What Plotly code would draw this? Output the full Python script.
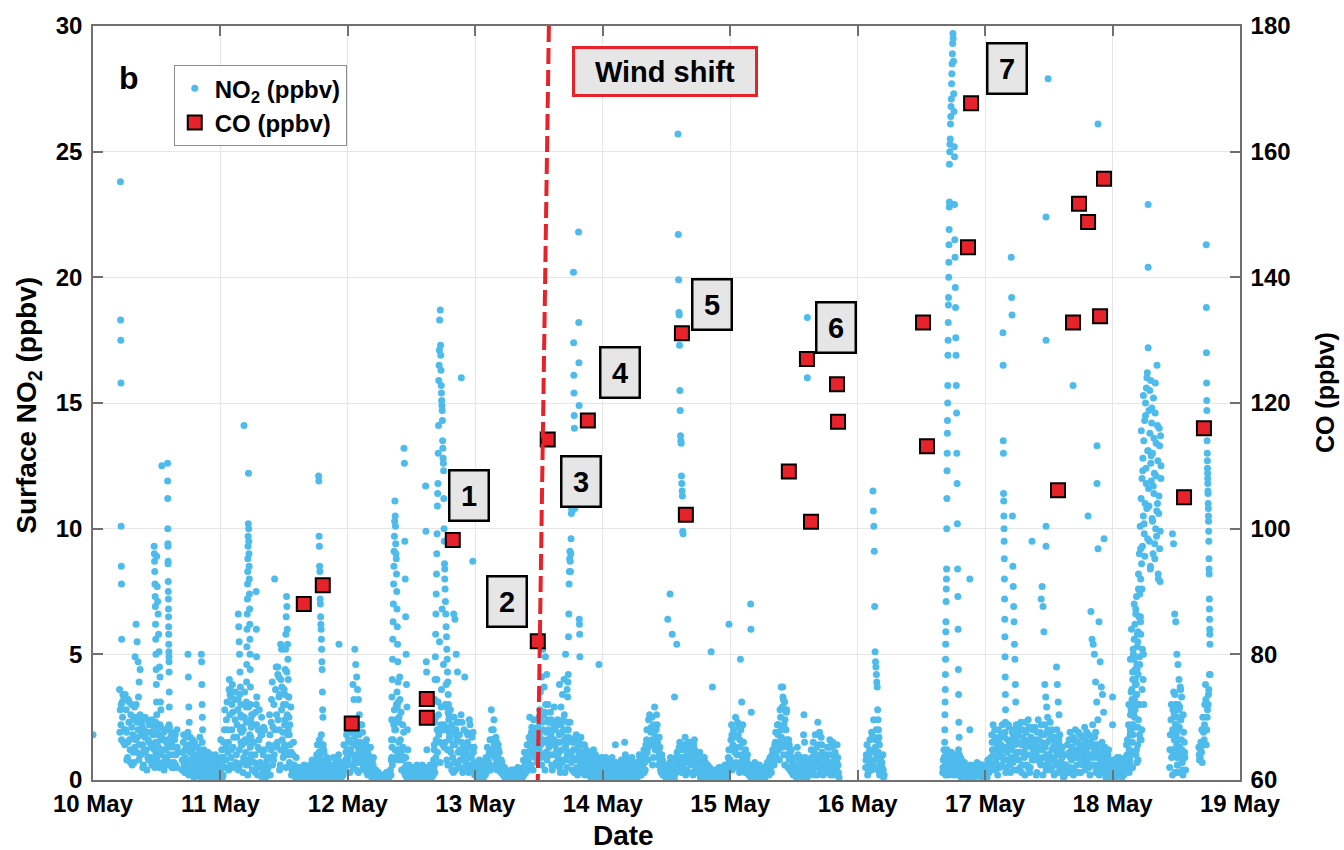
import pandas as pd
import plotly.graph_objects as go

START = pd.Timestamp("2016-05-10")
tick_labels = ["10 May", "11 May", "12 May", "13 May", "14 May",
               "15 May", "16 May", "17 May", "18 May", "19 May"]

N = None
# ---------------- NO2 background, strand A (15-min values from 00:00) ----------------
no2_may10 = [1.8, N, N, N, N, N, N, N, N, N, N, N,
             N, N, N, N, N, N, N, N, 3.6, 2.2, 3.1, 1.5,
             1.4, 2.8, 0.9, 2.3, 1.2, 3.0, 1.8, 0.7, 2.5, 1.1, 2.0, 1.4,
             1.0, 2.2, 0.6, 1.7, 1.2, 2.4, 0.8, 1.9, 1.3, 0.7, 2.1, 1.5,
             0.9, 1.8, 0.5, 2.1, 1.2, 0.7, 1.6, 2.0, 0.6, 1.4, 1.0, 1.9,
             1.3, 0.7, 1.8, 0.5, 1.1, N, N, 0.4, 1.5, 0.3, 1.7, 0.8,
             0.2, 1.1, 0.5, 1.6, 0.1, 0.8, 0.3, 1.3, 0.6, 0.1, 0.9, 0.4,
             0.3, 0.9, 0.1, 0.6, 0.2, 1.0, 0.4, 0.1, 0.7, 0.2, 0.5, 0.1]
no2_may11 = [0.4, 1.2, 0.2, 2.0, 0.8, 3.1, 1.5, 2.6, 0.9, 3.8, 1.7, 2.4,
             1.0, 2.8, 0.5, 2.0, 1.4, 0.3, 2.5, 1.1, 3.0, 0.6, 1.8, 0.9,
             0.4, 2.2, 1.0, 3.0, 0.2, 1.6, 0.7, 2.5, 0.3, 1.2, 0.1, 0.8,
             0.5, 2.6, 1.2, 3.9, 0.8, 2.0, 4.5, 1.5, 3.3, 0.6, 2.8, 1.9,
             3.6, 1.2, 4.3, 2.0, 0.7, 2.9, 0.4, 1.5, 0.2, 0.9, 0.3, 0.1,
             0.1, 0.4, 0.0, 0.6, 0.2, 0.1, 0.5, 0.0, 0.3, 0.8, 0.1, 0.4,
             0.6, 1.4, 0.2, 0.9, 1.8, 0.3, 1.1, 0.5, 0.2, 0.8, 0.1, 0.5,
             0.3, 0.9, 0.1, 0.6, 0.2, 1.0, 0.4, 0.0, 0.7, 1.4, 0.5, 1.8]
no2_may12 = [0.8, 2.0, 1.2, 2.2, 0.5, 1.7, 1.0, 2.1, 0.3, 1.5, 0.7, 1.9,
             1.1, 0.4, 1.6, 0.2, 0.9, 1.3, 0.1, 0.6, 0.2, 0.4, 0.0, 0.3,
             0.1, N, 0.2, N, 0.0, 0.3, N, 0.1, 0.4, 0.9, 1.6, 2.8,
             2.0, 3.5, 1.2, 4.1, 2.7, 0.8, 1.9, 0.5, 0.3, 0.1, 0.6, 0.2,
             0.2, 0.5, 0.0, 0.3, 0.6, 0.1, 0.4, 0.2, 0.6, 0.3, 0.1, 0.5,
             0.4, 0.2, 0.6, 0.1, 0.5, 1.2, 2.5, 4.0, 3.1, 5.5, 2.2, 6.8,
             4.6, 2.0, 3.8, 1.2, 2.4, 0.6, 1.9, 0.9, 2.5, 0.4, 1.6, 1.1,
             1.8, 0.5, 2.3, 1.0, 4.1, 0.7, 1.5, 0.3, 2.2, 0.9, 0.4, 1.3]
no2_may13 = [0.2, 0.6, 0.1, 0.8, 0.3, 0.5, 0.0, 0.4, 0.9, 1.3, 0.7, 1.6,
             2.8, 1.2, 2.4, 0.6, 1.5, 0.9, 1.1, 0.4, 0.7, 0.2, 0.5, 0.1,
             0.1, 0.3, 0.0, 0.4, 0.2, 0.0, 0.3, 0.1, 0.5, 0.2, 0.0, 0.3,
             0.5, 1.1, 0.3, 1.4, 0.8, 2.5, 0.6, 1.8, 2.4, 0.9, 1.5, 2.1,
             1.2, 2.5, 0.6, 2.0, 1.5, 3.0, 0.8, 2.3, 1.0, 1.8, 0.4, 2.2,
             1.4, 0.7, 2.4, 1.1, 0.3, 1.9, 0.8, 2.6, 1.3, 0.5, 2.0, 1.0,
             1.6, 0.4, 1.2, 0.8, 1.8, 0.2, 1.0, 0.6, 1.4, 0.3, 0.9, 0.5,
             0.3, 1.0, 0.5, 0.1, 0.8, 1.2, 0.2, 0.6, 0.9, 0.1, 0.4, 0.7]
no2_may14 = [0.2, 0.6, 0.0, 0.8, 0.3, 0.5, 0.1, 0.9, 0.4, 0.2, 0.7, 0.1,
             0.5, 0.2, 0.8, 0.0, 0.4, 1.0, 0.2, 0.6, 0.1, 0.3, 0.9, 0.4,
             0.3, 0.7, 0.1, 0.5, 0.9, 0.2, 0.6, 1.2, 0.4, 1.6, 0.8, 2.0,
             1.4, 2.5, 0.9, 2.9, 1.7, 2.2, 0.6, 1.3, 0.3, 0.8, 0.2, 0.5,
             0.1, 0.6, 0.3, 0.9, 0.2, 0.4, 0.0, 0.7, 1.1, 0.5, 1.5, 0.8,
             1.2, 0.4, 1.7, 0.8, 0.3, 1.4, 0.6, 1.0, 0.2, 1.6, 0.5, 0.9,
             0.4, 1.1, 0.2, 0.7, 0.3, 0.5, 0.1, 0.6, 0.2, 0.4, 0.0, 0.3,
             0.1, 0.4, 0.2, 0.0, 0.3, 0.5, 0.1, 0.2, 0.6, 0.0, 0.3, 1.2]
no2_may15 = [0.8, 2.2, 1.4, 0.5, 2.5, 1.0, 1.8, 0.3, 2.0, 0.9, 1.5, 0.6,
             0.4, 1.0, 0.2, 0.6, 0.1, 0.5, 0.3, 0.0, 0.4, 0.2, 0.6, 0.1,
             0.3, 0.1, 0.5, 0.2, 0.7, 0.4, 0.9, 0.3, 1.2, 0.6, 1.5, 0.9,
             1.8, 0.8, 2.5, 1.3, 3.2, 0.6, 2.0, 1.0, 1.6, 0.4, 1.2, 0.7,
             0.2, 0.6, 0.1, 1.0, 0.4, 0.2, 0.8, 0.3, 1.5, 0.5, 0.1, 0.7,
             0.3, 1.2, 0.5, 0.2, 1.8, 0.6, 2.3, 0.9, 0.4, 1.4, 0.2, 0.6,
             0.3, 1.0, 0.4, 1.6, 0.7, 1.3, 0.2, 1.1, 0.5, 0.9, 0.1, N,
             N, N, N, N, N, N, N, N, N, N, N, N]
no2_may16 = [N, N, N, N, N, N, 0.5, 1.4, 0.3, 1.2, 0.7, 1.7,
             2.4, 0.8, 2.0, 0.4, 1.4, 0.6, 0.3, 1.0, 0.2, N, N, N,
             N, N, N, N, N, N, N, N, N, N, N, N,
             N, N, N, N, N, N, N, N, N, N, N, N,
             N, N, N, N, N, N, N, N, N, N, N, N,
             N, N, N, N, 0.3, 1.2, 0.6, 0.9, 0.2, 1.1, 0.4, 0.8,
             0.5, 1.0, 0.2, 0.7, 1.2, 0.4, 0.1, 0.6, 0.3, 0.2, 0.5, 0.1,
             0.3, 0.6, 0.2, 0.5, 0.1, 0.4, 0.7, 0.2, 0.3, 0.6, 0.1, 0.4]
no2_may17 = [0.2, 0.5, 0.8, 0.3, 0.6, 1.8, 2.2, 1.2, 0.4, 0.9, 2.0, 0.5,
             1.4, 2.2, 0.8, 1.9, 0.5, 1.6, 2.1, 0.3, 1.2, 0.7, 2.0, 1.0,
             0.4, 1.8, 1.1, 2.3, 0.6, 1.5, 0.2, 1.9, 1.0, 2.1, 0.5, 1.3,
             2.0, 0.8, 1.6, 0.3, 2.4, 1.2, 0.6, 1.8, 0.9, 2.2, 0.4, 1.5,
             1.0, 2.3, 0.5, 1.7, 0.2, 1.2, 2.0, 0.7, 1.4, 0.3, 0.9, 0.1,
             0.2, 0.6, 1.4, 0.3, 1.9, 0.8, 1.2, 0.4, 2.0, 0.6, 1.5, 0.9,
             0.3, 1.7, 0.8, 2.1, 0.5, 1.3, 1.8, 0.2, 1.0, 2.2, 0.6, 1.4,
             0.4, 1.1, 0.2, 0.8, 1.5, 0.3, 0.9, 0.1, 0.6, 1.2, 0.2, 0.5]
no2_may18 = [0.3, 0.8, 0.1, 0.6, 0.2, 0.9, 0.4, 0.1, 0.7, 0.3, 0.5, 1.0,
             2.2, 0.8, 3.5, 1.5, 4.8, 2.8, 1.2, 5.5, 3.0, 6.5, 2.0, 4.0,
             N, N, N, N, N, N, N, N, N, N, N, N,
             N, N, N, N, N, N, N, 0.5, 2.4, 1.2, 3.5, 0.3,
             1.8, 0.6, 2.8, 1.0, 3.3, 0.2, 1.5, 0.4, N, N, N, N,
             N, N, N, N, N, 1.3, 0.9, 1.1, 2.5, 1.6, 3.8, 2.0,
             3.0, 4.2, N, N, N, N, N, N, N, N, N, N,
             N, N, N, N, N, N, N, N, N, N, N, N]

# ---------------- NO2 background, strand B (15-min values from 00:07:30) ----------------
no2_may10_b = [N, N, N, N, N, N, N, N, N, N, N, N,
               N, N, N, N, N, N, N, N, 2.8, 1.6, 3.4, 2.0,
               2.0, 0.8, 3.2, 1.6, 2.6, 0.6, 2.4, 1.3, 3.0, 1.7, 0.8, 2.6,
               1.8, 0.5, 2.0, 1.1, 0.4, 1.6, 2.2, 0.9, 2.4, 1.4, 0.5, 1.0,
               1.5, 0.7, 2.2, 1.1, 1.6, 0.4, 1.2, 0.8, 2.1, 1.0, 1.7, 0.5,
               0.5, 1.6, 1.0, 1.3, N, N, N, 1.1, 0.6, 1.2, 0.4, 1.9,
               1.4, 0.4, 1.2, 0.2, 1.5, 0.5, 1.0, 0.2, 1.7, 0.8, 0.3, 1.2,
               0.6, 0.1, 1.1, 0.4, 0.8, 0.3, 0.0, 0.9, 0.3, 0.8, 0.1, 0.6]
no2_may11_b = [0.9, 0.1, 1.5, 0.5, 2.4, 1.1, 3.6, 0.6, 2.0, 1.3, 3.2, 0.7,
               2.2, 0.4, 3.4, 1.5, 2.1, 0.9, 1.6, 2.9, 0.2, 2.3, 1.3, 2.6,
               1.5, 0.7, 2.7, 0.5, 2.0, 1.2, 1.8, 0.1, 2.1, 0.6, 0.4, 0.2,
               1.4, 0.2, 3.2, 2.1, 1.0, 3.6, 1.3, 2.4, 0.4, 4.0, 1.6, 3.0,
               2.4, 0.5, 1.8, 3.3, 1.4, 0.2, 1.0, 0.6, 0.1, 0.5, 0.0, 0.3,
               0.3, 0.0, 0.5, 0.2, 0.4, 0.0, 0.2, 0.6, 0.1, 0.3, 0.5, 0.0,
               1.0, 0.3, 1.6, 0.5, 0.7, 1.2, 0.1, 0.8, 0.4, 0.2, 0.6, 0.2,
               0.6, 0.2, 0.5, 0.1, 0.8, 0.3, 0.1, 0.5, 0.2, 0.6, 1.1, 0.9]
no2_may12_b = [1.6, 0.3, 1.9, 0.6, 1.4, 2.1, 0.4, 1.3, 1.8, 0.9, 2.2, 0.5,
               0.5, 1.4, 0.7, 1.0, 0.3, 0.5, 0.8, 0.2, 0.4, 0.1, 0.3, 0.1,
               N, 0.1, N, 0.2, N, N, 0.1, N, 0.2, 0.6, 2.2, 1.2,
               3.0, 1.0, 2.5, 1.6, 0.4, 1.3, 0.3, 0.9, 0.1, 0.4, 0.2, 0.4,
               0.4, 0.1, 0.4, 0.2, 0.0, 0.5, 0.2, 0.3, 0.1, 0.5, 0.3, 0.2,
               0.1, 0.5, 0.2, 0.4, 0.8, 0.3, 1.6, 1.1, 1.8, 0.7, 3.6, 1.4,
               1.3, 3.0, 0.8, 2.7, 1.6, 1.1, 2.2, 0.3, 1.4, 2.0, 0.7, 2.3,
               0.8, 1.5, 0.3, 2.0, 1.2, 1.9, 0.4, 2.4, 0.6, 1.7, 1.1, 0.2]
no2_may13_b = [0.5, 0.1, 0.7, 0.3, 0.1, 0.7, 0.4, 0.2, 0.5, 0.6, 1.1, 0.4,
               1.6, 2.0, 0.9, 1.7, 0.4, 1.2, 0.5, 0.8, 0.3, 0.5, 0.2, 0.3,
               0.2, 0.0, 0.3, 0.1, 0.4, 0.2, 0.1, 0.4, 0.0, 0.3, 0.2, 0.1,
               0.2, 0.7, 1.0, 0.5, 1.7, 1.2, 2.1, 0.4, 1.3, 1.7, 0.7, 1.2,
               2.8, 0.9, 1.6, 2.6, 0.4, 1.9, 2.4, 1.3, 2.7, 0.6, 1.4, 2.9,
               0.6, 2.2, 1.5, 0.5, 2.2, 1.2, 2.0, 0.3, 1.7, 2.3, 1.1, 1.6,
               0.7, 1.5, 0.3, 1.7, 0.5, 1.3, 0.8, 1.7, 0.4, 1.1, 0.2, 1.2,
               0.8, 0.2, 1.1, 0.6, 0.3, 0.5, 1.0, 0.3, 0.2, 0.8, 0.6, 0.2]
no2_may14_b = [0.5, 0.1, 0.6, 0.4, 0.1, 0.8, 0.3, 0.2, 0.6, 1.4, 0.3, 0.5,
               0.1, 0.7, 0.3, 0.5, 1.5, 0.3, 0.5, 0.1, 0.8, 0.6, 0.2, 0.7,
               0.6, 0.1, 0.4, 1.0, 0.3, 0.8, 0.4, 0.7, 1.4, 1.1, 2.4, 1.5,
               2.1, 0.6, 1.9, 1.2, 2.6, 0.9, 1.7, 0.4, 1.0, 0.4, 0.6, 0.1,
               0.4, 0.2, 0.7, 0.1, 0.6, 0.2, 0.5, 0.3, 0.6, 1.3, 0.9, 0.3,
               0.6, 1.4, 0.2, 1.1, 1.5, 0.7, 1.2, 0.3, 1.4, 0.8, 1.1, 0.3,
               0.8, 0.1, 0.6, 0.3, 0.9, 0.2, 0.4, 0.3, 0.5, 0.1, 0.4, 0.2,
               0.3, 0.1, 0.4, 0.5, 0.1, 0.2, 0.4, 0.3, 0.1, 0.4, 0.9, 0.5]
no2_may15_b = [1.6, 0.4, 2.0, 1.1, 0.7, 2.3, 0.5, 1.3, 1.0, 2.2, 0.4, 1.2,
               0.8, 0.3, 0.6, 0.1, 0.4, 0.2, 0.7, 0.2, 0.5, 0.1, 0.3, 0.4,
               0.1, 0.4, 0.2, 0.6, 0.3, 0.8, 0.5, 1.0, 0.7, 1.4, 1.1, 2.2,
               1.2, 2.8, 1.7, 3.7, 2.2, 1.4, 2.8, 0.5, 1.4, 0.9, 0.5, 0.2,
               0.5, 0.3, 1.3, 0.2, 0.7, 0.5, 0.1, 2.6, 0.9, 0.2, 0.5, 0.3,
               0.8, 0.4, 1.5, 0.7, 1.0, 0.2, 1.4, 0.5, 1.7, 0.3, 0.9, 0.4,
               0.8, 0.5, 1.3, 0.2, 1.5, 0.4, 0.9, 0.6, 1.4, 0.3, N, N,
               N, N, N, N, N, N, N, N, N, N, N, N]
no2_may16_b = [N, N, N, N, N, N, 1.0, 0.2, 0.9, 0.4, 1.9, 0.6,
               1.2, 1.6, 0.5, 1.1, 0.2, 0.9, 0.5, 0.1, N, N, N, N,
               N, N, N, N, N, N, N, N, N, N, N, N,
               N, N, N, N, N, N, N, N, N, N, N, N,
               N, N, N, N, N, N, N, N, N, N, N, N,
               N, N, N, N, 0.8, 0.4, 1.0, 0.3, 0.7, 0.5, 1.1, 0.2,
               0.9, 0.3, 0.8, 0.4, 0.6, 0.9, 0.5, 0.2, 0.7, 0.4, 0.2, 0.5,
               0.5, 0.2, 0.4, 0.1, 0.6, 0.3, 0.2, 0.5, 0.6, 0.2, 0.4, 0.3]
no2_may17_b = [0.4, 0.1, 0.5, 0.7, 0.4, 1.2, 0.6, 1.7, 1.5, 0.2, 1.3, 1.7,
               0.6, 1.2, 1.7, 0.3, 1.1, 2.2, 0.6, 1.5, 1.9, 0.4, 1.4, 2.2,
               1.5, 0.8, 2.0, 0.3, 1.7, 0.9, 1.3, 0.6, 2.4, 0.3, 1.7, 0.8,
               1.1, 2.1, 0.2, 1.3, 0.9, 1.9, 1.5, 0.2, 1.4, 0.6, 1.9, 0.8,
               1.6, 0.4, 2.0, 0.9, 1.5, 0.6, 0.3, 1.6, 0.5, 1.1, 0.4, 0.6,
               1.0, N, 0.4, 1.1, 0.5, 1.6, 0.2, 1.6, 0.9, 1.2, 0.3, 1.8,
               1.2, 0.6, 1.4, 0.4, 1.9, 0.9, 0.5, 1.5, 0.6, 1.3, 1.7, 0.3,
               1.3, 0.6, 1.0, 0.4, 0.6, 1.2, 0.4, 0.7, 1.0, 0.3, 0.8, 0.1]
no2_may18_b = [0.6, 0.2, 0.5, 0.9, 0.4, 0.2, 0.8, 0.5, 0.2, 0.9, 1.4, 0.6,
               1.2, 2.6, 0.5, 2.2, 3.2, 1.0, 4.4, 2.4, 4.6, 1.6, 5.2, 3.0,
               N, N, N, N, N, N, N, N, N, N, N, N,
               N, N, N, N, N, N, N, 1.8, 0.9, 2.8, 1.6, 2.2,
               0.9, 3.0, 1.3, 2.4, 0.7, 1.9, 0.9, N, N, N, N, N,
               N, N, N, N, N, 0.8, 1.5, 0.7, 1.9, 3.0, 1.4, 2.8,
               3.6, N, N, N, N, N, N, N, N, N, N, N,
               N, N, N, N, N, N, N, N, N, N, N, N]

# ---------------- NO2 background, strand C (15-min values from 00:03:45) ----------------
no2_may10_c = [N, N, N, N, N, N, N, N, N, N, N, N,
               N, N, N, N, N, N, N, N, 1.9, 3.0, 2.5, 3.3,
               3.4, 1.9, 1.5, 3.1, 0.7, 2.1, 1.1, 2.9, 1.6, 2.3, 3.3, 1.0,
               2.4, 1.4, 1.2, 2.5, 1.9, 0.9, 1.5, 2.3, 0.6, 1.8, 1.2, 2.3,
               2.0, 1.3, 1.0, 1.6, 0.5, 1.9, 0.9, 1.5, 1.3, 2.2, 0.7, 1.4,
               1.8, 1.0, 0.6, 2.0, N, N, N, 0.8, 1.8, 0.9, 1.3, 0.6,
               0.8, 1.7, 0.3, 1.0, 0.7, 1.3, 0.2, 0.6, 1.1, 0.4, 1.5, 0.7,
               1.0, 0.5, 0.3, 0.8, 0.1, 0.6, 0.9, 0.3, 1.0, 0.4, 0.2, 0.8]
no2_may11_c = [1.6, 0.6, 0.9, 2.8, 1.3, 2.0, 0.4, 3.4, 1.2, 2.7, 0.5, 3.5,
               1.7, 3.2, 1.2, 2.6, 0.7, 2.0, 3.5, 0.6, 1.6, 2.9, 0.8, 2.1,
               2.6, 1.5, 0.3, 2.2, 1.3, 2.8, 0.5, 1.8, 1.0, 2.0, 0.6, 0.4,
               0.9, 1.8, 2.3, 0.6, 3.0, 1.4, 2.6, 4.2, 2.0, 1.2, 3.7, 0.9,
               1.4, 3.0, 2.6, 1.0, 2.2, 1.1, 0.6, 0.2, 0.4, 0.1, 0.2, 0.5,
               0.0, 0.2, 0.3, 0.1, 0.0, 0.3, 0.1, 0.2, 0.5, 0.0, 0.2, 0.3,
               0.3, 0.8, 1.1, 0.1, 1.3, 0.7, 0.5, 0.2, 0.9, 0.4, 0.3, 0.1,
               0.1, 0.5, 0.3, 0.8, 0.4, 0.6, 0.2, 0.3, 0.5, 0.4, 0.8, 1.2]
no2_may12_c = [1.2, 1.5, 0.6, 1.0, 1.9, 0.8, 1.5, 0.7, 1.1, 2.2, 1.3, 1.0,
               1.5, 0.8, 0.3, 1.2, 0.6, 0.2, 0.4, 0.9, 0.1, 0.3, 0.2, 0.0,
               N, N, 0.1, N, 0.1, N, N, 0.2, N, 1.3, 0.8, 2.0,
               2.4, 2.9, 0.8, 3.2, 1.1, 2.2, 0.9, 0.2, 0.6, 0.2, 0.3, 0.1,
               0.1, 0.3, 0.2, 0.5, 0.3, 0.2, 0.1, 0.5, 0.3, 0.2, 0.4, 0.1,
               0.3, 0.1, 0.4, 0.3, 0.2, 0.6, 0.9, 2.0, 2.6, 1.5, 2.9, 2.0,
               2.2, 1.5, 2.9, 0.6, 1.9, 2.8, 0.4, 1.4, 0.7, 1.8, 2.3, 0.5,
               1.2, 2.6, 0.8, 1.4, 0.5, 1.1, 1.8, 0.9, 1.3, 0.4, 1.9, 0.7]
no2_may13_c = [0.3, 0.4, 0.2, 0.5, 0.6, 0.2, 0.3, 0.6, 0.3, 0.9, 0.5, 1.0,
               2.0, 1.6, 1.4, 1.0, 0.8, 1.4, 0.6, 0.3, 0.5, 0.4, 0.1, 0.2,
               0.3, 0.2, 0.1, 0.2, 0.3, 0.1, 0.2, 0.2, 0.3, 0.1, 0.4, 0.2,
               0.8, 0.4, 0.6, 1.1, 0.4, 1.5, 1.9, 1.0, 1.6, 2.0, 1.2, 1.7,
               1.8, 1.4, 2.3, 1.0, 2.7, 1.1, 1.6, 2.0, 1.5, 2.4, 1.0, 1.6,
               2.0, 1.2, 0.9, 1.8, 1.5, 0.7, 2.4, 1.6, 0.8, 1.5, 1.7, 2.3,
               1.1, 0.9, 1.5, 0.4, 1.2, 0.8, 1.5, 0.3, 1.1, 0.7, 1.4, 0.8,
               0.6, 0.7, 0.2, 0.9, 0.5, 0.8, 0.6, 0.1, 0.6, 0.4, 0.3, 0.9]
no2_may14_c = [0.4, 0.3, 0.9, 0.2, 0.6, 0.3, 0.7, 0.5, 0.1, 0.5, 0.6, 0.3,
               0.3, 0.4, 0.6, 0.2, 0.7, 0.1, 0.9, 0.4, 0.3, 0.7, 0.5, 0.2,
               0.1, 0.5, 0.3, 0.7, 0.2, 0.5, 0.9, 0.3, 1.0, 2.0, 1.3, 2.6,
               1.9, 1.6, 2.2, 1.4, 2.0, 1.5, 1.1, 0.8, 0.6, 0.2, 0.4, 0.3,
               0.3, 0.5, 0.1, 0.4, 0.3, 0.6, 0.2, 0.9, 0.4, 0.8, 1.2, 0.6,
               0.9, 0.7, 1.3, 0.4, 1.0, 0.9, 1.5, 0.7, 0.6, 1.2, 0.7, 0.4,
               0.6, 0.4, 0.9, 0.5, 0.1, 0.7, 0.2, 0.4, 0.3, 0.2, 0.3, 0.1,
               0.2, 0.3, 0.1, 0.2, 0.4, 0.3, 0.2, 0.1, 0.3, 0.2, 0.6, 0.8]
no2_may15_c = [1.2, 1.8, 0.6, 1.7, 1.3, 0.6, 2.1, 1.6, 0.7, 1.5, 1.0, 0.3,
               0.6, 0.5, 0.4, 0.3, 0.2, 0.4, 0.1, 0.4, 0.2, 0.3, 0.5, 0.2,
               0.2, 0.3, 0.1, 0.4, 0.5, 0.2, 0.7, 0.6, 0.9, 1.0, 1.9, 1.3,
               2.2, 1.5, 2.0, 2.9, 1.0, 2.4, 1.6, 1.3, 0.8, 1.1, 0.3, 0.5,
               0.4, 0.9, 0.3, 0.6, 0.2, 0.9, 0.4, 1.8, 0.6, 0.3, 0.8, 0.2,
               0.5, 0.9, 0.3, 1.1, 0.5, 1.3, 0.8, 1.9, 0.6, 1.1, 0.5, 0.8,
               0.6, 1.3, 0.7, 1.0, 0.4, 1.5, 0.6, 0.3, 0.8, 0.6, N, N,
               N, N, N, N, N, N, N, N, N, N, N, N]
no2_may16_c = [N, N, N, N, N, N, 0.8, 0.9, 0.6, 1.6, 0.4, 1.1,
               1.7, 1.3, 0.9, 1.6, 0.8, 0.4, 0.7, 0.4, N, N, N, N,
               N, N, N, N, N, N, N, N, N, N, N, N,
               N, N, N, N, N, N, N, N, N, N, N, N,
               N, N, N, N, N, N, N, N, N, N, N, N,
               N, N, N, N, 0.5, 0.9, 0.2, 1.2, 0.5, 0.8, 0.6, 1.0,
               0.3, 0.7, 0.5, 1.0, 0.3, 0.6, 0.8, 0.4, 0.1, 0.6, 0.3, 0.4,
               0.2, 0.4, 0.5, 0.3, 0.4, 0.2, 0.5, 0.3, 0.4, 0.1, 0.6, 0.2]
no2_may17_c = [0.3, 0.6, 0.3, 0.5, 0.9, 1.5, 1.0, 2.0, 0.7, 1.4, 1.6, 1.1,
               1.8, 0.9, 1.3, 2.3, 0.8, 1.2, 1.4, 0.9, 1.6, 1.8, 0.8, 1.6,
               1.1, 2.2, 0.5, 1.4, 2.0, 1.1, 2.3, 1.4, 0.5, 1.6, 2.1, 1.0,
               1.5, 1.4, 1.0, 1.9, 1.6, 0.7, 2.2, 1.2, 1.8, 1.3, 1.0, 2.0,
               0.7, 1.8, 1.2, 1.3, 0.8, 1.7, 1.0, 1.2, 1.8, 0.7, 1.3, 0.4,
               0.6, 0.3, 1.0, 1.6, 0.9, 1.3, 1.7, 1.0, 1.5, 1.0, 1.9, 1.3,
               0.8, 1.3, 1.0, 1.6, 1.2, 0.7, 1.4, 1.0, 1.7, 0.9, 1.1, 1.9,
               0.9, 1.4, 0.5, 1.2, 1.0, 0.7, 1.3, 0.5, 0.9, 0.6, 0.4, 0.3]
no2_may18_c = [0.5, 0.4, 0.7, 0.3, 0.6, 0.5, 0.2, 0.7, 0.5, 0.6, 0.8, 1.6,
               3.0, 1.8, 2.6, 4.0, 2.1, 3.8, 3.4, 4.2, 1.8, 5.8, 3.6, 5.0,
               N, N, N, N, N, N, N, N, N, N, N, N,
               N, N, N, N, N, N, N, 1.2, 3.0, 2.0, 1.0, 2.9,
               2.5, 1.6, 2.1, 3.6, 1.2, 2.6, 1.1, N, N, N, N, N,
               N, N, N, N, N, 1.0, 1.2, 2.0, 1.4, 2.2, 3.2, 2.5,
               3.4, N, N, N, N, N, N, N, N, N, N, N,
               N, N, N, N, N, N, N, N, N, N, N, N]

no2_days_a = [no2_may10, no2_may11, no2_may12, no2_may13, no2_may14,
              no2_may15, no2_may16, no2_may17, no2_may18]
no2_days_b = [no2_may10_b, no2_may11_b, no2_may12_b, no2_may13_b, no2_may14_b,
              no2_may15_b, no2_may16_b, no2_may17_b, no2_may18_b]
no2_days_c = [no2_may10_c, no2_may11_c, no2_may12_c, no2_may13_c, no2_may14_c,
              no2_may15_c, no2_may16_c, no2_may17_c, no2_may18_c]

# ---------------- NO2 plume episodes (start day, end day, readings) ----------------
plume_t0 = [0.215, 0.33, 0.48, 0.50, 0.585, 0.745, 0.85, 1.07, 1.185, 1.14,
            1.20, 1.28, 1.425, 1.45, 1.50, 1.77, 1.93, 2.04, 2.34, 2.44,
            2.61, 2.675, 2.725, 2.76, 2.83, 3.50, 3.66, 3.72, 3.77, 3.81,
            3.97, 4.51, 4.59, 4.85, 4.99, 5.08, 5.16, 5.40, 5.605, 6.12,
            6.68, 6.72, 6.76, 6.88, 7.14, 7.205, 7.44, 7.56, 7.83, 8.0,
            8.13, 8.20, 8.30, 8.47, 8.47, 8.735, 8.22, 8.14]
plume_t1 = [0.225, 0.37, 0.50, 0.54, 0.60, 0.755, 0.86, 1.09, 1.185, 1.17,
            1.24, 1.285, 1.425, 1.48, 1.54, 1.81, 1.93, 2.09, 2.40, 2.47,
            2.62, 2.72, 2.76, 2.80, 2.86, 3.57, 3.72, 3.76, 3.78, 3.82,
            3.97, 4.58, 4.63, 4.86, 4.99, 5.09, 5.165, 5.44, 5.605, 6.17,
            6.72, 6.76, 6.80, 6.88, 7.16, 7.24, 7.49, 7.58, 7.93, 8.0,
            8.20, 8.30, 8.38, 8.53, 8.55, 8.765, 8.38, 8.22]
plume_no2 = [
    [23.8, 18.3, 17.5, 15.8, 10.1, 8.5, 7.8, 5.6],
    [4.9, 6.2, 5.5, 4.7, 3.9, 4.4],
    [9.3, 9.0, 8.7, 8.3, 7.8, 7.3, 6.9, 6.2, 5.6, 5.0, 4.4, 3.8, 3.1, 2.6],
    [8.9, 7.7, 7.1, 6.6, 5.8, 5.1, 4.5, 4.1, 3.1, 2.8, 1.7, 12.5],
    [12.6, 11.9, 11.2, 10.0, 9.4, 9.3, 8.6, 8.7, 7.9, 7.5, 7.2, 6.8, 6.5, 6.1, 5.8, 5.4,
     5.1, 4.9, 4.7, 4.3, 3.5, 2.9, 2.1, 1.6],
    [5.0, 4.1, 2.9, 2.3],
    [5.0, 4.7, 3.8, 3.0, 2.5, 2.0],
    [4.0, 3.6, 3.3, 3.0],
    [14.1],
    [6.6, 6.1, 5.5, 5.0, 4.3, 3.7, 3.0, 2.5, 1.9, 1.4],
    [0.8, 1.5, 2.3, 3.1, 3.9, 4.6, 5.3, 6.0, 6.6, 7.2, 7.8, 8.3, 8.8, 9.3, 9.7, 10.2, 12.2,
     10.0, 9.5, 9.0, 8.5, 8.0, 7.4, 6.8, 6.2, 5.6, 5.0, 4.4, 3.7, 3.0, 2.4, 1.7, 1.0],
    [7.5, 6.0, 4.9, 3.3],
    [8.0],
    [4.5, 4.1, 3.4, 5.4, 5.2],
    [1.0, 2.2, 3.4, 4.4, 5.2, 5.8, 6.5, 7.3, 6.9, 6.0, 5.4, 4.8, 4.0, 3.3, 2.5, 1.8],
    [12.1, 11.9, 9.7, 9.3, 8.5, 8.3, 7.2, 7.0, 6.5, 6.2, 6.0, 5.6, 5.2, 4.7, 4.4, 3.5, 2.8,
     2.5, 1.4, 1.2, 0.7],
    [5.4],
    [3.8, 3.2, 5.2, 4.6, 4.1, 3.6, 3.2, 2.6],
    [0.8, 1.6, 2.4, 3.3, 4.0, 4.8, 5.6, 6.3, 7.0, 7.8, 8.5, 9.1, 9.7, 10.3, 11.1, 10.5, 10.1,
     9.4, 9.0, 8.8, 8.2, 7.5, 6.8, 6.1, 5.4, 4.7, 3.9, 3.1, 2.3, 1.5],
    [13.2, 12.6, 9.5, 8.0, 6.5, 5.0, 3.8, 2.9, 2.0, 1.2],
    [11.7, 9.9, 4.7, 4.3, 1.2],
    [0.5, 1.4, 2.3, 3.2, 4.0, 4.9, 5.8, 6.6, 7.4, 8.2, 9.0, 9.8, 10.9, 11.4, 11.8, 13.0,
     14.1, 15.9, 16.5, 17.1, 18.3],
    [18.7, 17.3, 16.9, 16.3, 15.7, 15.4, 15.1, 14.9, 14.7, 14.3, 13.5, 13.2, 12.8, 12.6,
     12.3, 11.2, 10.0, 9.5, 8.6, 8.4],
    [8.0, 7.6, 7.1, 6.6, 6.1, 5.7, 5.2, 4.8, 4.3, 3.9, 3.4, 3.0, 2.6, 2.1, 1.7, 1.2],
    [6.6, 6.4, 5.0, 4.3],
    [2.5, 3.5, 4.1, 5.2, 3.7, 4.9, 4.2, 3.0],
    [3.8, 2.9, 3.4, 4.0, 5.0, 3.6],
    [1.0, 2.0, 3.3, 3.9, 4.2, 5.7, 6.6, 7.8, 8.3, 8.8, 9.1, 8.7, 8.3, 9.0, 9.6, 10.6, 10.8,
     10.9, 10.7],
    [20.2, 17.4, 16.1, 15.4, 14.5, 14.0, 11.5, 10.8],
    [21.8, 18.2, 16.6, 14.9, 6.4, 6.2, 5.8, 4.9],
    [4.6],
    [6.4, 7.4, 5.8, 3.3, 5.4],
    [25.7, 21.7, 19.9, 18.6, 18.5, 17.3, 15.5, 14.7, 13.7, 13.5, 13.4, 12.1, 11.8, 11.5,
     11.3, 9.9, 9.8],
    [5.1, 3.7],
    [6.2],
    [4.8, 3.1],
    [7.0, 6.0, 2.7],
    [3.7, 3.3, 3.1, 2.7],
    [18.4, 16.0],
    [11.5, 10.7, 10.1, 9.1, 6.9, 5.1, 4.7, 4.5, 4.2, 3.9, 3.7, 2.8, 2.4, 2.0, 1.7, 1.4],
    [0.3, 0.9, 1.5, 2.0, 2.6, 3.1, 3.6, 4.2, 4.8, 5.4, 5.9, 6.3, 7.1, 7.6, 8.0, 8.4, 10.0,
     11.2, 12.3, 13.0, 13.8, 14.3, 15.0, 15.7, 16.9, 17.5, 18.2, 18.9, 19.2, 20.0, 20.6,
     21.3, 21.9, 22.8, 23.0],
    [24.5, 25.0, 25.3, 25.5, 26.1, 26.4, 26.8, 27.1, 27.7, 28.1, 28.5, 28.9, 29.3, 29.7,
     29.5, 28.6, 27.3, 26.6, 25.2, 24.8],
    [22.9, 21.5, 20.8, 19.6, 18.8, 17.6, 16.9, 15.7, 14.6, 13.0, 11.8, 10.2, 8.4, 7.3, 6.0,
     4.4, 3.4, 2.3, 1.7, 1.0, 0.5],
    [8.0, 2.0],
    [17.8, 16.5, 13.5, 13.0, 11.4, 11.1, 10.5, 10.0, 9.5, 8.8, 8.0, 7.2, 6.4, 5.7, 4.9, 4.1,
     3.4, 2.8],
    [20.8, 19.2, 18.5, 10.5, 8.5, 7.7, 6.9, 6.3, 5.4, 4.8, 3.8, 3.1],
    [7.2, 7.7, 6.9, 5.9, 3.8, 3.3, 2.9, 2.5],
    [4.5, 3.8, 3.1, 2.6],
    [6.7, 5.6, 5.4, 5.0, 3.9, 3.1, 2.4, 6.3, 4.7, 3.7, 3.4, 2.7],
    [3.3, 2.2],
    [0.3, 1.2, 0.6, 2.0, 1.0, 2.8, 1.5, 3.6, 2.2, 4.3, 1.8, 5.0, 3.0, 5.6, 2.5, 6.2, 4.0, 6.8,
     3.4, 7.3, 4.6, 5.3, 1.4, 0.8],
    [5.9, 8.2, 6.5, 9.0, 7.4, 10.1, 8.0, 11.2, 8.6, 12.0, 9.3, 12.8, 10.5, 13.5, 9.8, 14.3,
     11.0, 15.0, 12.4, 15.6, 10.8, 16.2, 13.1, 17.2, 11.6, 14.7, 9.5, 13.8, 8.4, 12.6],
    [15.9, 11.9, 14.2, 10.4, 13.0, 9.0, 15.2, 11.4, 12.2, 8.8, 14.6, 10.0, 13.4, 9.7, 16.5,
     11.0, 12.7, 8.0, 10.6, 14.0, 9.2, 7.9, 13.7, 12.0],
    [9.8, 9.4, 6.6, 6.3, 5.0, 4.6, 4.0, 3.6],
    [0.2, 1.0, 1.8, 2.6, 3.4, 3.0, 2.2, 1.4, 0.6, 0.3, 1.2, 2.0, 2.9, 3.7, 2.5, 1.6, 0.8, 0.4],
    [21.3, 18.8, 17.0, 15.8, 15.1, 14.7, 14.1, 13.5, 13.0, 12.7, 12.4, 12.2, 12.0, 11.8,
     11.5, 11.4, 11.0, 10.8, 10.5, 10.3, 9.9, 9.5, 8.8, 8.4, 8.2, 7.2, 6.8, 6.4, 6.0, 5.8,
     5.4, 4.2],
    [9.2, 13.9, 7.6, 12.3, 15.3, 10.2, 8.9, 14.5, 11.8, 16.0, 9.6, 13.1, 10.9, 15.5, 8.5,
     12.9, 14.8, 10.3, 11.7, 13.6, 9.4, 15.8, 12.1, 10.7, 14.1, 8.2, 11.3, 13.3, 9.9, 12.5],
    [4.8, 1.9, 6.0, 3.2, 0.5, 5.2, 2.6, 7.0, 1.1, 4.4, 6.6, 3.8, 0.7, 5.8, 2.1, 7.6, 3.0, 4.9,
     1.6, 6.3],
]

# isolated NO2 readings (day offset from 10 May 00:00, ppbv)
no2_extra_day = [2.89, 2.98, 7.478, 7.494, 7.478, 7.478, 7.368, 7.478, 7.690,
                 7.878, 7.878, 7.808, 7.933, 7.886, 7.886, 8.279, 8.279]
no2_extra_val = [16.0, 8.7, 22.4, 27.9, 17.5, 10.1, 9.5, 9.3, 15.7,
                 13.3, 11.8, 10.5, 9.6, 9.2, 26.1, 22.9, 20.4]

# ---------------- CO ----------------
co_day = [1.654, 1.803, 2.030, 2.619, 2.619, 2.823, 3.490, 3.568, 3.883, 4.621,
          4.652, 5.460, 5.602, 5.634, 5.838, 5.846, 6.513, 6.544, 6.866, 6.890,
          7.572, 7.690, 7.737, 7.808, 7.902, 7.933, 8.561, 8.717]
co_ppbv = [88.0, 91.0, 69.0, 72.9, 69.9, 98.2, 82.1, 114.2, 117.2, 131.1,
           102.2, 109.1, 127.0, 101.1, 123.0, 117.0, 132.8, 113.1, 144.8, 167.7,
           106.1, 132.8, 151.7, 148.8, 133.8, 155.7, 105.0, 116.0]

wind_shift_top_day = 3.577
wind_shift_bottom_day = 3.490


def to_time(d):
    return START + pd.to_timedelta(d, unit="D")


no2_d, no2_v = [], []
for offset, days in ((0.0, no2_days_a), (1 / 192.0, no2_days_b), (1 / 384.0, no2_days_c)):
    for k, day in enumerate(days):
        for i, v in enumerate(day):
            if v is None:
                continue
            no2_d.append(k + i / 96.0 + offset)
            no2_v.append(v)
for t0, t1, vals in zip(plume_t0, plume_t1, plume_no2):
    n = len(vals)
    for j, v in enumerate(vals):
        no2_d.append(t0 if n == 1 else t0 + (t1 - t0) * j / (n - 1))
        no2_v.append(v)
no2_d += no2_extra_day
no2_v += no2_extra_val

FONT = "Liberation Sans, Arial, sans-serif"
BLUE = "#4DBBEC"
RED = "#E8222A"

fig = go.Figure()
fig.add_trace(go.Scatter(
    x=[to_time(d) for d in no2_d], y=no2_v, mode="markers",
    name="NO<sub>2</sub> (ppbv)",
    marker=dict(size=7, color=BLUE, line=dict(width=0)),
))
fig.add_trace(go.Scatter(
    x=[to_time(d) for d in co_day], y=co_ppbv, mode="markers", yaxis="y2",
    name="CO (ppbv)",
    marker=dict(symbol="square", size=14, color=RED, line=dict(color="black", width=2)),
))

axis_line = "#707070"
grid = "#E6E6E6"
tickfont = dict(family=FONT, size=24, color="black", weight="bold")

fig.update_layout(
    width=1344, height=850,
    margin=dict(l=93, r=104, t=20, b=70),
    paper_bgcolor="white", plot_bgcolor="white",
    showlegend=True,
    legend=dict(x=0.0704, y=0.948, xanchor="left", yanchor="top",
                bgcolor="white", bordercolor="#8C8C8C", borderwidth=1,
                font=dict(family=FONT, size=24, color="black", weight="bold"),
                tracegroupgap=0),
    xaxis=dict(
        type="date",
        range=[to_time(0), to_time(9)],
        tickvals=[to_time(i) for i in range(10)], ticktext=tick_labels,
        tickfont=tickfont, showgrid=True, gridcolor=grid, gridwidth=1,
        ticks="inside", ticklen=10, tickwidth=1.5, tickcolor=axis_line,
        showline=True, linecolor=axis_line, linewidth=1.5, mirror="ticks",
        zeroline=False, ticklabelstandoff=1,
    ),
    yaxis=dict(
        range=[0, 30], tickvals=[0, 5, 10, 15, 20, 25, 30],
        tickfont=tickfont, showgrid=True, gridcolor=grid, gridwidth=1,
        ticks="inside", ticklen=10, tickwidth=1.5, tickcolor=axis_line,
        showline=True, linecolor=axis_line, linewidth=1.5, mirror=True,
        zeroline=False, ticklabelstandoff=4,
    ),
    yaxis2=dict(
        range=[60, 180], tickvals=[60, 80, 100, 120, 140, 160, 180],
        overlaying="y", side="right",
        tickfont=tickfont, showgrid=False,
        ticks="inside", ticklen=10, tickwidth=1.5, tickcolor=axis_line,
        showline=True, linecolor=axis_line, linewidth=1.5,
        zeroline=False, ticklabelstandoff=4,
    ),
)

# wind-shift dashed line
fig.add_shape(type="line", xref="x", yref="paper",
              x0=to_time(wind_shift_top_day), y0=1,
              x1=to_time(wind_shift_bottom_day), y1=0,
              line=dict(color=RED, width=4, dash="16px,6px"), layer="above")


def px_to_paper(px, py):
    return (px - 93.3) / 1146.7, (780 - py) / 760


annos = []
for label, (cx, cy) in [("1", (469.5, 493)), ("2", (507, 600.5)), ("3", (581.5, 479.5)),
                        ("4", (620.5, 369.5)), ("5", (712.5, 301)), ("6", (836.5, 324)),
                        ("7", (1007, 63))]:
    x, y = px_to_paper(cx, cy)
    annos.append(dict(x=x, y=y, xref="paper", yref="paper", text=label, showarrow=False,
                      font=dict(family=FONT, size=29, color="black", weight="bold"),
                      bgcolor="#E6E6E6", bordercolor="black", borderwidth=2.5,
                      borderpad=1, width=35, height=46, xanchor="center", yanchor="middle"))
x, y = px_to_paper(665, 66)
annos.append(dict(x=x, y=y, xref="paper", yref="paper", text="Wind shift", showarrow=False,
                  font=dict(family=FONT, size=29, color="black", weight="bold"),
                  bgcolor="#E6E6E6", bordercolor=RED, borderwidth=3,
                  borderpad=1, width=178, height=43, xanchor="center", yanchor="middle"))
x, y = px_to_paper(129, 72)
annos.append(dict(x=x, y=y, xref="paper", yref="paper", text="b", showarrow=False,
                  xanchor="center", yanchor="middle",
                  font=dict(family=FONT, size=32, color="black", weight="bold")))
x, y = px_to_paper(624, 836)
annos.append(dict(x=x, y=y, xref="paper", yref="paper", text="Date", showarrow=False,
                  xanchor="center", yanchor="middle",
                  font=dict(family=FONT, size=28, color="black", weight="bold")))
x, y = px_to_paper(29, 402)
annos.append(dict(x=x, y=y, xref="paper", yref="paper", text="Surface NO<sub>2</sub> (ppbv)",
                  showarrow=False, textangle=-90, xanchor="center", yanchor="middle",
                  font=dict(family=FONT, size=28, color="black", weight="bold")))
x, y = px_to_paper(1325, 390)
annos.append(dict(x=x, y=y, xref="paper", yref="paper", text="CO (ppbv)",
                  showarrow=False, textangle=-90, xanchor="center", yanchor="middle",
                  font=dict(family=FONT, size=25, color="black", weight="bold")))
fig.update_layout(annotations=annos)

fig.write_html("out.html")
